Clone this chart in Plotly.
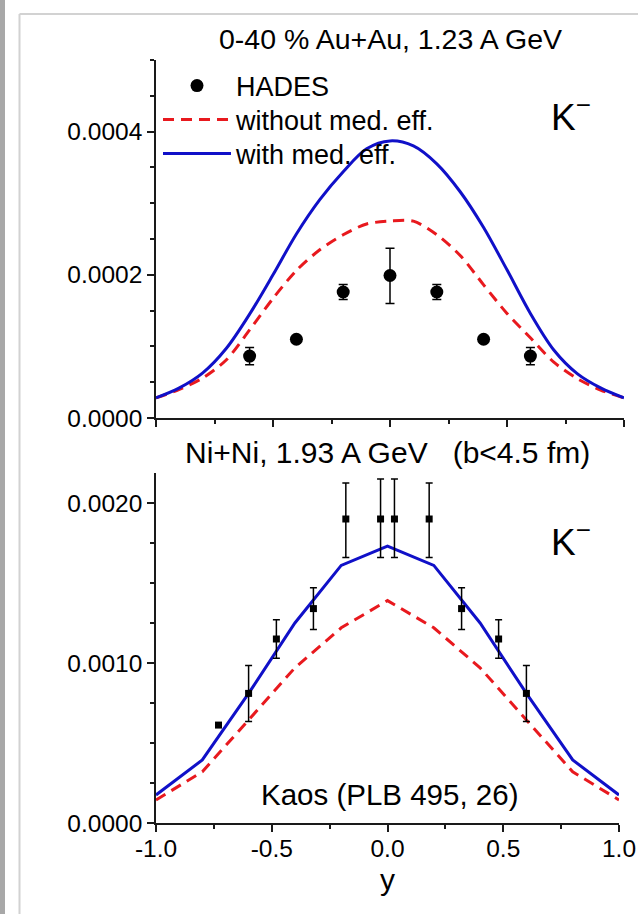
import plotly.graph_objects as go

W, H = 638, 914

# ---------------- data: top panel (0-40 % Au+Au, 1.23 A GeV) ----------------
y_model_top = [-1.0, -0.9, -0.8, -0.7, -0.6, -0.5, -0.4, -0.3, -0.2, -0.1, 0.0,
               0.1, 0.2, 0.3, 0.4, 0.5, 0.6, 0.7, 0.8, 0.9, 1.0]
with_med_top = [0.000028, 0.000042, 0.000063, 0.000097, 0.000145, 0.000200, 0.000257,
                0.000305, 0.000344, 0.000376, 0.000387, 0.000380, 0.000355, 0.000316,
                0.000266, 0.000207, 0.000146, 0.000095, 0.000062, 0.000042, 0.000028]
without_med_top = [0.000028, 0.000040, 0.000056, 0.000081, 0.000123, 0.000167, 0.000206,
                   0.000235, 0.000256, 0.000271, 0.000275, 0.000275, 0.000256, 0.000227,
                   0.000186, 0.000146, 0.000112, 0.000078, 0.000055, 0.000039, 0.000028]
hades_y = [-0.6, -0.4, -0.2, 0.0, 0.2, 0.4, 0.6]
hades_val = [0.0000865, 0.00011, 0.000176, 0.000199, 0.000176, 0.00011, 0.0000865]
hades_err_plus = [0.000012, 0.0, 0.0000105, 0.000038, 0.0000105, 0.0, 0.000012]
hades_err_minus = [0.000012, 0.0, 0.0000105, 0.000039, 0.0000105, 0.0, 0.000012]

# ---------------- data: bottom panel (Ni+Ni, 1.93 A GeV) ----------------
y_model_bot = [-1.0, -0.8, -0.6, -0.4, -0.2, 0.0, 0.2, 0.4, 0.6, 0.8, 1.0]
with_med_bot = [0.000175, 0.000394, 0.00081, 0.00125, 0.00161, 0.00173,
                0.00161, 0.00125, 0.00081, 0.000394, 0.000175]
without_med_bot = [0.000144, 0.00032, 0.000644, 0.00097, 0.00122, 0.00139,
                   0.00122, 0.00097, 0.000644, 0.00032, 0.000144]
kaos_y = [-0.73, -0.6, -0.48, -0.32, -0.18, -0.03, 0.03, 0.18, 0.32, 0.48, 0.6]
kaos_val = [0.000612, 0.00081, 0.00115, 0.00134, 0.0019, 0.0019, 0.0019, 0.0019,
            0.00134, 0.00115, 0.00081]
kaos_err_plus = [0.0, 0.000175, 0.00012, 0.00013, 0.000225, 0.00025, 0.00025, 0.000225,
                 0.00013, 0.00012, 0.000175]
kaos_err_minus = [0.0, 0.000175, 0.00012, 0.00013, 0.00024, 0.00024, 0.00024, 0.00024,
                  0.00013, 0.00012, 0.000175]

# ---------------- axis ticks / labels ----------------
x_tickvals = [-1.0, -0.5, 0.0, 0.5, 1.0]
x_ticktext = ["-1.0", "-0.5", "0.0", "0.5", "1.0"]
top_label_vals = [0.0, 0.0002, 0.0004]
top_label_text = ["0.0000", "0.0002", "0.0004"]
top_major_vals = [0.0, 0.0001, 0.0002, 0.0003, 0.0004, 0.0005]
top_mid_vals = [0.0001, 0.0003]
bot_label_vals = [0.0, 0.0010, 0.0020]
bot_label_text = ["0.0000", "0.0010", "0.0020"]
bot_major_vals = [0.0, 0.0005, 0.0010, 0.0015, 0.0020]
bot_mid_vals = [0.0005, 0.0015]

RED = "#e8191e"
BLUE = "#1010c8"
FONT = "Liberation Sans, Arial, sans-serif"
AXC = "#1a1a1a"


def px_x(p):
    return p / W


def px_y(p):
    return 1 - p / H


fig = go.Figure()

# top panel traces
fig.add_trace(go.Scatter(x=hades_y, y=hades_val, mode="markers", name="HADES",
                         legend="legend",
                         marker=dict(symbol="circle", size=13, color="black"),
                         error_y=dict(type="data", array=hades_err_plus,
                                      arrayminus=hades_err_minus, color="black",
                                      thickness=1.5, width=4.5),
                         xaxis="x", yaxis="y"))
fig.add_trace(go.Scatter(x=y_model_top, y=without_med_top, mode="lines",
                         name="without med. eff.", legend="legend2",
                         line=dict(color=RED, width=3, dash="11px,7px", shape="spline",
                                   smoothing=0.8),
                         xaxis="x", yaxis="y"))
fig.add_trace(go.Scatter(x=y_model_top, y=with_med_top, mode="lines",
                         name="with med. eff.", legend="legend3",
                         line=dict(color=BLUE, width=3, shape="spline", smoothing=0.9),
                         xaxis="x", yaxis="y"))

# bottom panel traces
fig.add_trace(go.Scatter(x=y_model_bot, y=without_med_bot, mode="lines",
                         showlegend=False,
                         line=dict(color=RED, width=3, dash="11px,7px"),
                         xaxis="x3", yaxis="y3"))
fig.add_trace(go.Scatter(x=y_model_bot, y=with_med_bot, mode="lines",
                         showlegend=False,
                         line=dict(color=BLUE, width=3),
                         xaxis="x3", yaxis="y3"))
fig.add_trace(go.Scatter(x=kaos_y, y=kaos_val, mode="markers", showlegend=False,
                         marker=dict(symbol="square", size=7, color="black"),
                         error_y=dict(type="data", array=kaos_err_plus,
                                      arrayminus=kaos_err_minus, color="black",
                                      thickness=1.5, width=3.5),
                         xaxis="x3", yaxis="y3"))

top_dom_x = [px_x(156), px_x(624)]
bot_dom_x = [px_x(156), px_x(619)]
top_dom_y = [px_y(418), px_y(60)]
bot_dom_y = [px_y(823), px_y(473)]

tickfont = dict(family=FONT, size=24.5, color="black")


def base_axis(ticks, showline=True):
    return dict(ticks=ticks, ticklen=7, tickwidth=1.5, tickcolor=AXC,
                showline=showline, linecolor=AXC, linewidth=1.6,
                showgrid=False, zeroline=False, tickfont=tickfont,
                automargin=False, fixedrange=True)


def xax(domain, anchor, ticks, labels, overlay=None, side="bottom"):
    d = base_axis(ticks)
    d.update(domain=domain, anchor=anchor, range=[-1, 1], tickmode="array",
             tickvals=x_tickvals, showticklabels=labels, side=side,
             minor=dict(dtick=0.25, tick0=0, ticks=ticks, ticklen=4, tickwidth=1.5,
                        tickcolor=AXC, showgrid=False))
    if labels:
        d["ticktext"] = x_ticktext
        d["ticklabelstandoff"] = -4
    if overlay:
        d["overlaying"] = overlay
    return d


def yax(domain, anchor, rng, tv, tt, mdt, ticks, overlay=None, side="left",
        ticklen=7, minor=True, showline=True):
    d = base_axis(ticks, showline)
    d.update(domain=domain, anchor=anchor, range=rng, tickmode="array",
             tickvals=tv, showticklabels=tt is not None, side=side, ticklen=ticklen)
    if tt is not None:
        d["ticktext"] = tt
    if minor:
        d["minor"] = dict(dtick=mdt, tick0=0, ticks=ticks, ticklen=4, tickwidth=1.5,
                          tickcolor=AXC, showgrid=False)
    if overlay:
        d["overlaying"] = overlay
    return d


top_range = [0, 0.0005]
bot_range = [0, 0.0021875]

leg_common = dict(xanchor="left", yanchor="middle", bgcolor="rgba(0,0,0,0)",
                  borderwidth=0, font=dict(family=FONT, size=27, color="black"),
                  itemwidth=68, tracegroupgap=0)

fig.update_layout(
    width=W, height=H,
    margin=dict(l=0, r=0, t=0, b=0, autoexpand=False),
    paper_bgcolor="white", plot_bgcolor="rgba(0,0,0,0)",
    font=dict(family=FONT, color="black"),
    xaxis=xax(top_dom_x, "y", "outside", False),
    xaxis2=xax(top_dom_x, "y", "inside", False, overlay="x", side="top"),
    yaxis=yax(top_dom_y, "x", top_range, top_label_vals, top_label_text, 0.00005,
              "outside"),
    yaxis2=yax(top_dom_y, "x", top_range, top_major_vals, None, 0.00005,
               "inside", overlay="y", side="right"),
    yaxis5=yax(top_dom_y, "x", top_range, top_mid_vals, None, 0.00005,
               "outside", overlay="y", side="left", ticklen=6, minor=False,
               showline=False),
    xaxis3=xax(bot_dom_x, "y3", "outside", True),
    xaxis4=xax(bot_dom_x, "y3", "inside", False, overlay="x3", side="top"),
    yaxis3=yax(bot_dom_y, "x3", bot_range, bot_label_vals, bot_label_text, 0.00025,
               "outside"),
    yaxis4=yax(bot_dom_y, "x3", bot_range, bot_major_vals, None, 0.00025,
               "inside", overlay="y3", side="right"),
    yaxis6=yax(bot_dom_y, "x3", bot_range, bot_mid_vals, None, 0.00025,
               "outside", overlay="y3", side="left", ticklen=6, minor=False,
               showline=False),
    showlegend=True,
    legend=dict(leg_common, x=px_x(158), y=px_y(86)),
    legend2=dict(leg_common, x=px_x(158), y=px_y(120)),
    legend3=dict(leg_common, x=px_x(158), y=px_y(154)),
)
fig.update_layout(xaxis3_title=dict(text="y", font=dict(family=FONT, size=30),
                                    standoff=8))

ann = dict(xref="paper", yref="paper", showarrow=False, font=dict(family=FONT, color="black"))
annotations = [
    dict(ann, text="0-40 % Au+Au, 1.23 A GeV", x=px_x(390.5), y=px_y(39),
         xanchor="center", yanchor="middle", font=dict(family=FONT, size=28.5)),
    dict(ann, text="Ni+Ni, 1.93 A GeV\u00a0\u00a0\u00a0(b&lt;4.5 fm)", x=px_x(388),
         y=px_y(452), xanchor="center", yanchor="middle", font=dict(family=FONT, size=30)),
    dict(ann, text="Kaos (PLB 495, 26)", x=px_x(389), y=px_y(794),
         xanchor="center", yanchor="middle", font=dict(family=FONT, size=29.5)),
    dict(ann, text="K<sup>\u2212</sup>", x=px_x(549), y=px_y(115),
         xanchor="left", yanchor="middle", font=dict(family=FONT, size=37)),
    dict(ann, text="K<sup>\u2212</sup>", x=px_x(549), y=px_y(539),
         xanchor="left", yanchor="middle", font=dict(family=FONT, size=37)),
]
fig.update_layout(annotations=annotations)

shapes = [
    dict(type="rect", xref="paper", yref="paper", x0=0, x1=px_x(5), y0=0, y1=1,
         fillcolor="#a8a8a8", line=dict(width=0), layer="below"),
    dict(type="line", xref="paper", yref="paper", x0=px_x(19.5), x1=px_x(19.5),
         y0=0, y1=px_y(14), line=dict(color="#d2d2d2", width=2), layer="below"),
    dict(type="line", xref="paper", yref="paper", x0=px_x(19.5), x1=1,
         y0=px_y(14), y1=px_y(14), line=dict(color="#d2d2d2", width=2), layer="below"),
]
fig.update_layout(shapes=shapes)

fig.write_html("out.html", config={"displayModeBar": False},
               post_script="document.body.style.margin='0px';"
                           "document.body.style.overflow='hidden';")
